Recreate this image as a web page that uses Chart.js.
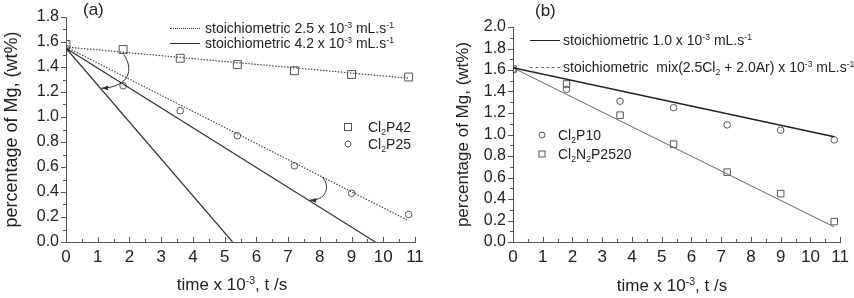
<!DOCTYPE html>
<html lang="en">
<head>
<meta charset="UTF-8">
<script src="https://cdn.jsdelivr.net/npm/chart.js"></script>
<title>Mg removal</title>
<style>
    body { margin: 0; background: #fff; font-family: "Liberation Sans", Arial, sans-serif; color: #222; }
    #wrap { position: relative; width: 854px; height: 298px; overflow: hidden; }
    .box { position: absolute; top: 0; height: 298px; }
    .lbl { position: absolute; white-space: nowrap; line-height: 1; transform: translateY(-50%); }
    .ctr { transform: translate(-50%, -50%); }
    .lbl sup, .lbl sub { font-size: 0.62em; line-height: 0; position: relative; vertical-align: baseline; }
    .lbl sup { top: -0.55em; }
    .lbl sub { top: 0.3em; }
    .smp { position: absolute; width: 30px; height: 0; }
    .mk { position: absolute; box-sizing: border-box; border: 1px solid #555; background: #fff; transform: translate(-50%, -50%); }
</style>
</head>
<body>
<div id="wrap">
    <div class="box" style="left:0;width:430px"><canvas id="chartA"></canvas></div>
    <div class="box" style="left:430px;width:424px"><canvas id="chartB"></canvas></div>

    <!-- panel (a) -->
    <div class="lbl" style="left:83px;top:9px;font-size:17px">(a)</div>
    <div class="smp" style="left:170px;top:28px;border-top:1px dotted #444"></div>
    <div class="lbl" style="left:205px;top:28px;font-size:14px">stoichiometric 2.5 x 10<sup>-3</sup> mL.s<sup>-1</sup></div>
    <div class="smp" style="left:170px;top:43px;border-top:1px solid #333"></div>
    <div class="lbl" style="left:205px;top:43px;font-size:14px">stoichiometric 4.2 x 10<sup>-3</sup> mL.s<sup>-1</sup></div>
    <div class="mk" style="left:348px;top:127px;width:8px;height:8px"></div>
    <div class="lbl" style="left:368px;top:127px;font-size:14px">Cl<sub>2</sub>P42</div>
    <div class="mk" style="left:348px;top:144px;width:7px;height:7px;border-radius:50%"></div>
    <div class="lbl" style="left:368px;top:144px;font-size:14px">Cl<sub>2</sub>P25</div>
    <div class="lbl ctr" style="left:232px;top:284px;font-size:17px">time x 10<sup>-3</sup>, t /s</div>

    <!-- panel (b) -->
    <div class="lbl" style="left:535px;top:10px;font-size:17px">(b)</div>
    <div class="smp" style="left:530px;top:40px;border-top:1.5px solid #222"></div>
    <div class="lbl" style="left:563px;top:40px;font-size:14px">stoichiometric 1.0 x 10<sup>-3</sup> mL.s<sup>-1</sup></div>
    <div class="smp" style="left:530px;top:67px;border-top:1px dashed #777"></div>
    <div class="lbl" style="left:563px;top:67px;font-size:14px">stoichiometric&nbsp; mix(2.5Cl<sub>2</sub> + 2.0Ar) x 10<sup>-3</sup> mL.s<sup>-1</sup></div>
    <div class="mk" style="left:542px;top:135px;width:7px;height:7px;border-radius:50%"></div>
    <div class="lbl" style="left:558px;top:135px;font-size:14px">Cl<sub>2</sub>P10</div>
    <div class="mk" style="left:542px;top:154px;width:7px;height:7px"></div>
    <div class="lbl" style="left:558px;top:154px;font-size:14px">Cl<sub>2</sub>N<sub>2</sub>P2520</div>
    <div class="lbl ctr" style="left:672px;top:285px;font-size:17px">time x 10<sup>-3</sup>, t /s</div>
</div>

<script>
    // sampling times (x 10^-3 s)
    const timeA = [0, 1.8, 3.6, 5.4, 7.2, 9, 10.8];
    const cl2p42 = [1.58, 1.54, 1.47, 1.42, 1.37, 1.34, 1.32];
    const cl2p25 = [1.55, 1.25, 1.05, 0.85, 0.61, 0.39, 0.22];

    // fitted / stoichiometric lines of panel (a): [start, end]
    const fitP42X = [0, 10.8], fitP42Y = [1.56, 1.31];
    const fitP25X = [0, 10.8], fitP25Y = [1.56, 0.17];
    const stoichAX = [0, 5.25], stoichAY = [1.55, 0];
    const stoichBX = [0, 9.75], stoichBY = [1.55, 0];

    // curved arrows of panel (a), in data units: start, ctrl1, ctrl2, end
    const arrowsA = [
        [[1.82, 1.50], [2.15, 1.38], [2.0, 1.24], [1.12, 1.23]],
        [[8.08, 0.52], [8.35, 0.44], [8.2, 0.33], [7.68, 0.335]]
    ];

    const timeB = [0, 1.8, 3.6, 5.4, 7.2, 9, 10.8];
    const cl2p10 = [1.60, 1.42, 1.31, 1.25, 1.09, 1.04, 0.95];
    const cl2n2p2520 = [1.61, 1.47, 1.18, 0.91, 0.65, 0.45, 0.19];
    const stoich10X = [0, 10.8], stoich10Y = [1.62, 0.98];
    const mixX = [0, 10.8], mixY = [1.62, 0.14];

    function pts(xs, ys) {
        return xs.map(function (x, i) { return { x: x, y: ys[i] }; });
    }

    function lineSet(xs, ys, color, width, dash) {
        return {
            data: pts(xs, ys), showLine: true, pointRadius: 0,
            borderColor: color, borderWidth: width, borderDash: dash || [], fill: false
        };
    }

    function markerSet(xs, ys, style, radius) {
        return {
            data: pts(xs, ys), showLine: false, pointStyle: style, pointRadius: radius,
            pointBorderColor: '#555', pointBackgroundColor: 'rgba(255,255,255,0)', pointBorderWidth: 1
        };
    }

    // Origin-like ticks: x ticks point inwards, y ticks outwards, with minor ticks
    const tickPlugin = {
        id: 'ticks',
        afterDraw(chart, args, opts) {
            const ctx = chart.ctx, x = chart.scales.x, y = chart.scales.y;
            ctx.save();
            ctx.strokeStyle = '#555';
            ctx.lineWidth = 1;
            ctx.beginPath();
            for (let i = 0; i <= Math.round((x.max - x.min) / 0.5); i++) {
                const v = x.min + i * 0.5;
                const px = Math.round(x.getPixelForValue(v)) + 0.5;
                const len = (i % 2 === 0) ? 5 : 3;
                ctx.moveTo(px, y.bottom);
                ctx.lineTo(px, y.bottom - len);
            }
            for (let i = 0; i <= Math.round((y.max - y.min) / 0.1); i++) {
                const v = y.min + i * 0.1;
                const py = Math.round(y.getPixelForValue(v)) + 0.5;
                const len = (i % 2 === 0) ? 5 : 3;
                ctx.moveTo(x.left, py);
                ctx.lineTo(x.left - len, py);
            }
            ctx.stroke();

            // annotation arrows
            (opts.arrows || []).forEach(function (a) {
                const p = a.map(function (q) { return [x.getPixelForValue(q[0]), y.getPixelForValue(q[1])]; });
                ctx.strokeStyle = '#333';
                ctx.beginPath();
                ctx.moveTo(p[0][0], p[0][1]);
                ctx.bezierCurveTo(p[1][0], p[1][1], p[2][0], p[2][1], p[3][0], p[3][1]);
                ctx.stroke();
                const ang = Math.atan2(p[3][1] - p[2][1], p[3][0] - p[2][0]);
                ctx.fillStyle = '#333';
                ctx.beginPath();
                ctx.moveTo(p[3][0], p[3][1]);
                ctx.lineTo(p[3][0] - 7 * Math.cos(ang - 0.35), p[3][1] - 7 * Math.sin(ang - 0.35));
                ctx.lineTo(p[3][0] - 7 * Math.cos(ang + 0.35), p[3][1] - 7 * Math.sin(ang + 0.35));
                ctx.closePath();
                ctx.fill();
            });
            ctx.restore();
        }
    };

    function makeConfig(datasets, yMax, yWidth, pad, titleSize, arrows) {
        return {
            type: 'scatter',
            data: { datasets: datasets },
            plugins: [tickPlugin],
            options: {
                responsive: false,
                animation: false,
                layout: { padding: pad },
                plugins: {
                    legend: { display: false },
                    tooltip: { enabled: false },
                    ticks: { arrows: arrows }
                },
                scales: {
                    x: {
                        type: 'linear', min: 0, max: 11,
                        ticks: {
                            stepSize: 1, autoSkip: false, maxRotation: 0, color: '#222', padding: 5,
                            font: { family: 'Liberation Sans', size: 17 }
                        },
                        grid: { drawOnChartArea: false, drawTicks: false },
                        border: { color: '#555', width: 1 },
                        afterFit: function (s) { s.height = 56; }
                    },
                    y: {
                        type: 'linear', min: 0, max: yMax,
                        ticks: {
                            stepSize: 0.2, autoSkip: false, color: '#222', padding: 7,
                            font: { family: 'Liberation Sans', size: 16 },
                            callback: function (v) { return v.toFixed(1); }
                        },
                        grid: { drawOnChartArea: false, drawTicks: false },
                        border: { color: '#555', width: 1 },
                        title: {
                            display: true, text: 'percentage of Mg, (wt%)', color: '#222',
                            font: { family: 'Liberation Sans', size: titleSize }, padding: { top: 1, bottom: 0 }
                        },
                        afterFit: function (s) { s.width = yWidth; }
                    }
                }
            }
        };
    }

    const canvasA = document.getElementById('chartA');
    canvasA.width = 430; canvasA.height = 298;
    new Chart(canvasA, makeConfig([
        lineSet(fitP42X, fitP42Y, '#444', 1.2, [1.5, 1.5]),
        lineSet(fitP25X, fitP25Y, '#444', 1.2, [1.5, 1.5]),
        lineSet(stoichAX, stoichAY, '#333', 1.2),
        lineSet(stoichBX, stoichBY, '#333', 1.2),
        markerSet(timeA, cl2p42, 'rect', 5.6),
        markerSet(timeA, cl2p25, 'circle', 3.3)
    ], 1.8, 66, { top: 17, right: 15, left: 0, bottom: 0 }, 18, arrowsA));

    const canvasB = document.getElementById('chartB');
    canvasB.width = 424; canvasB.height = 298;
    new Chart(canvasB, makeConfig([
        lineSet(stoich10X, stoich10Y, '#222', 1.5),
        lineSet(mixX, mixY, '#666', 1),
        markerSet(timeB, cl2p10, 'circle', 3.3),
        markerSet(timeB, cl2n2p2520, 'rect', 4.6)
    ], 2.0, 61, { top: 27, right: 3, left: 22, bottom: 0 }, 17, []));
</script>
</body>
</html>
